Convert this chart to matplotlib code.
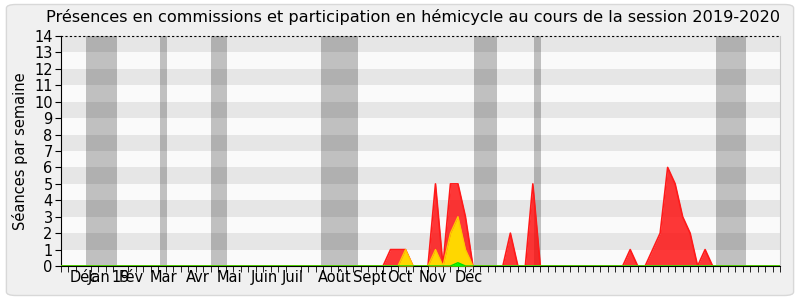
import matplotlib.pyplot as plt
import numpy as np
from matplotlib.patches import FancyBboxPatch

# weeks of the session (one tick per week)
n_weeks = 96

# month labels and where they sit on the week axis
month_labels = ["Déc", "Jan", "19", "Fév", "Mar", "Avr", "Mai", "Juin", "Juil",
                "Août", "Sept", "Oct", "Nov", "Déc"]
month_pos = [3.0, 5.1, 8.0, 9.4, 13.7, 18.3, 22.5, 27.2, 31.0,
             36.5, 41.2, 45.3, 49.7, 54.5]

# holidays (start week, end week)
vacances = [(3.33, 7.42), (13.2, 14.2), (20.0, 22.1), (34.7, 39.7),
            (55.2, 58.2), (63.1, 64.1), (87.5, 91.4)]

# presences in commission (red)
red_weeks = [44, 45, 46, 50, 52, 53, 54, 60, 63, 76, 79, 80, 81, 82, 83, 84, 86]
red_vals = [1, 1, 1, 5, 5, 5, 3, 2, 5, 1, 1, 2, 6, 5, 3, 2, 1]

# participation in hemicycle (yellow)
yellow_weeks = [46, 50, 52, 53, 54]
yellow_vals = [1, 1, 2, 3, 1]

# interventions (green)
green_weeks = [53]
green_vals = [0.2]

x = np.arange(n_weeks + 1)


def serie(weeks, vals):
    y = np.zeros(len(x))
    y[weeks] = vals
    return y


red = serie(red_weeks, red_vals)
yellow = serie(yellow_weeks, yellow_vals)
green = serie(green_weeks, green_vals)

fig = plt.figure(figsize=(8, 3), dpi=100)
fig.patch.set_facecolor("white")
fond = FancyBboxPatch((0.008, 0.015), 0.984, 0.97, boxstyle="round,pad=0,rounding_size=0.012",
                      transform=fig.transFigure, facecolor="#f0f0f0",
                      edgecolor="#d8d8d8", linewidth=1, zorder=-10)
fig.patches.append(fond)
ax = fig.add_axes([0.07625, 0.1133, 0.89875, 0.7667])
ax.set_facecolor("#fafafa")

# horizontal stripes
for k in range(1, 14, 2):
    ax.axhspan(k, k + 1, color="#e6e6e6", lw=0, zorder=0)

for a, b in vacances:
    ax.axvspan(a, b, color="black", alpha=0.23, lw=0, zorder=1)

ax.fill_between(x, red, color="#ff0000", alpha=0.78, lw=0, zorder=2)
ax.plot(x, red, color="#ff1a1a", lw=1.2, zorder=3)
ax.fill_between(x, yellow, color="#ffd700", lw=0, zorder=4)
ax.plot(x, yellow, color="#ffc800", lw=1, zorder=5)
ax.fill_between(x, green, color="#00ff00", lw=0, zorder=6)
ax.plot(x, green, color="#00dd00", lw=1, zorder=7)

ax.set_xlim(0, n_weeks)
ax.set_ylim(0, 14)
ax.set_yticks(range(0, 15))
ax.tick_params(axis="y", labelsize=10.5, length=4, pad=2)
ax.set_xticks(month_pos)
ax.set_xticklabels(month_labels, fontsize=10.5)
ax.tick_params(axis="x", which="major", length=0, pad=3)
ax.set_xticks(np.arange(0, n_weeks + 1), minor=True)
ax.tick_params(axis="x", which="minor", length=4)

ax.spines["top"].set_linestyle((0, (1, 3)))
ax.spines["top"].set_color("black")
ax.spines["right"].set_color("#c8c8c8")

ax.set_ylabel("Séances par semaine", fontsize=10.5, labelpad=4)
ax.set_title("Présences en commissions et participation en hémicycle au cours de la session 2019-2020",
             fontsize=11.6, pad=10, x=0.49)

fig.savefig("out.png", dpi=100, facecolor=fig.get_facecolor())
